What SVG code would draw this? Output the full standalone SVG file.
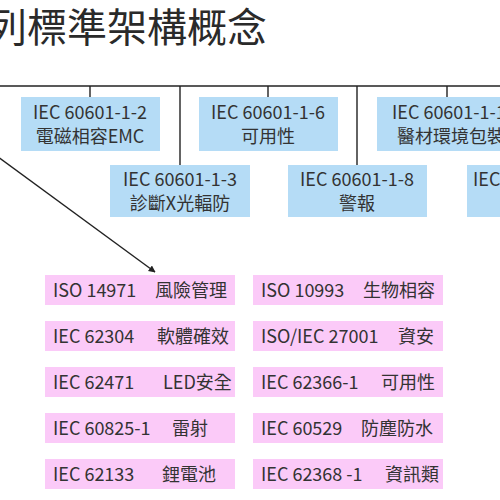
<svg xmlns="http://www.w3.org/2000/svg" width="500" height="500" viewBox="0 0 500 500">
<defs>
<marker id="arr" viewBox="0 0 10 10" refX="9" refY="5" markerWidth="7" markerHeight="7" markerUnits="userSpaceOnUse" orient="auto">
<path d="M0,0 L10,5 L0,10 z" fill="#222"/>
</marker>
<style>
.t{font-family:"Noto Sans CJK TC","Noto Sans",sans-serif;fill:#2a2a2a}
.b{fill:#b5dcf6}
.p{fill:#fbcaf8}
.bt{font-family:"Noto Sans CJK TC","Noto Sans",sans-serif;font-size:18px;fill:#333;text-anchor:middle}
.bs{font-family:"Noto Sans CJK TC","Noto Sans",sans-serif;font-size:18px;fill:#333}
.pt{font-family:"Noto Sans CJK TC","Noto Sans",sans-serif;font-size:18px;fill:#333}
.ln{stroke:#222;stroke-width:1.4;fill:none}
</style>
</defs>
<rect width="500" height="500" fill="#fff"/>
<text id="title" class="t" x="-13" y="42" font-size="40">列標準架構概念</text>
<g id="connectors">
<line class="ln" x1="0" y1="86" x2="500" y2="86"/>
<line class="ln" x1="90" y1="86" x2="90" y2="97"/>
<line class="ln" x1="180" y1="86" x2="180" y2="165"/>
<line class="ln" x1="268" y1="86" x2="268" y2="97"/>
<line class="ln" x1="357" y1="86" x2="357" y2="165"/>
<line class="ln" x1="447" y1="86" x2="447" y2="97"/>
<line class="ln" x1="-6" y1="154" x2="155" y2="272" stroke-width="1.1" marker-end="url(#arr)"/>
</g>
<g id="n1"><rect class="b" x="21" y="97" width="139" height="54"/><text class="bt" x="90" y="119">IEC 60601-1-2</text><text class="bt" x="90" y="143">電磁相容EMC</text></g>
<g id="n2"><rect class="b" x="199" y="97" width="139" height="54"/><text class="bt" x="268" y="119">IEC 60601-1-6</text><text class="bt" x="268" y="143">可用性</text></g>
<g id="n3"><rect class="b" x="377" y="97" width="150" height="54"/><text class="bs" x="392" y="119">IEC 60601-1-1</text><text class="bs" x="397" y="143">醫材環境包裝</text></g>
<g id="n4"><rect class="b" x="110" y="165" width="140" height="52"/><text class="bt" x="180" y="186">IEC 60601-1-3</text><text class="bt" x="180" y="210">診斷X光輻防</text></g>
<g id="n5"><rect class="b" x="288" y="165" width="139" height="52"/><text class="bt" x="357" y="186">IEC 60601-1-8</text><text class="bt" x="357" y="210">警報</text></g>
<g id="n6"><rect class="b" x="467" y="165" width="140" height="52"/><text class="bs" x="473" y="186">IEC 60601</text></g>
<g id="p1"><rect class="p" x="45" y="275" width="190" height="30"/><text class="pt" x="53" y="297">ISO 14971</text><text class="pt" x="155" y="297">風險管理</text></g>
<g id="p2"><rect class="p" x="45" y="321" width="190" height="30"/><text class="pt" x="53" y="343">IEC 62304</text><text class="pt" x="157" y="343">軟體確效</text></g>
<g id="p3"><rect class="p" x="45" y="367" width="190" height="30"/><text class="pt" x="53" y="389">IEC 62471</text><text class="pt" x="163" y="389">LED安全</text></g>
<g id="p4"><rect class="p" x="45" y="413" width="190" height="30"/><text class="pt" x="53" y="435">IEC 60825-1</text><text class="pt" x="172" y="435">雷射</text></g>
<g id="p5"><rect class="p" x="45" y="459" width="190" height="30"/><text class="pt" x="53" y="481">IEC 62133</text><text class="pt" x="162" y="481">鋰電池</text></g>
<g id="q1"><rect class="p" x="253" y="275" width="190" height="30"/><text class="pt" x="261" y="297">ISO 10993</text><text class="pt" x="363" y="297">生物相容</text></g>
<g id="q2"><rect class="p" x="253" y="321" width="190" height="30"/><text class="pt" x="261" y="343">ISO/IEC 27001</text><text class="pt" x="398" y="343">資安</text></g>
<g id="q3"><rect class="p" x="253" y="367" width="190" height="30"/><text class="pt" x="261" y="389">IEC 62366-1</text><text class="pt" x="381" y="389">可用性</text></g>
<g id="q4"><rect class="p" x="253" y="413" width="190" height="30"/><text class="pt" x="261" y="435">IEC 60529</text><text class="pt" x="361" y="435">防塵防水</text></g>
<g id="q5"><rect class="p" x="253" y="459" width="190" height="30"/><text class="pt" x="261" y="481">IEC 62368 -1</text><text class="pt" x="385" y="481">資訊類</text></g>
</svg>
